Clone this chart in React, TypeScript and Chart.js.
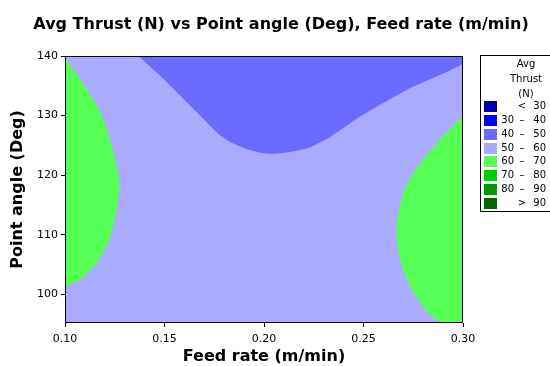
import React, { useEffect, useRef } from "react";
import { Chart, registerables } from "chart.js";

Chart.register(...registerables);

const chartTitle = "Avg Thrust (N) vs Point angle (Deg), Feed rate (m/min)";
const xAxisTitle = "Feed rate (m/min)";
const yAxisTitle = "Point angle (Deg)";

const feedMin = 0.1;
const feedMax = 0.3;
const angleMin = 95.2;
const angleMax = 140;
const xTicks = [0.1, 0.15, 0.2, 0.25, 0.3];
const yTicks = [100, 110, 120, 130, 140];

// 50–60 N: whole design space (background level)
const band5060Feed = [feedMin, feedMax, feedMax, feedMin];
const band5060Angle = [angleMin, angleMin, angleMax, angleMax];

// 40–50 N: upper middle region
const band4050Feed = [0.1368, 0.1494, 0.1628, 0.1712, 0.1779, 0.1846, 0.193, 0.203, 0.2131, 0.2231, 0.2332, 0.2482, 0.2717, 0.3, 0.3];
const band4050Angle = [140, 136.2, 131.7, 128.9, 126.7, 125.3, 124.2, 123.6, 123.9, 124.7, 126.4, 129.8, 134.3, 138.7, 140];

// 60–70 N: left region
const leftGreenFeed = [0.1, 0.1009, 0.1092, 0.1176, 0.1226, 0.126, 0.1273, 0.126, 0.1223, 0.1159, 0.1075, 0.1];
const leftGreenAngle = [140, 139.3, 135.4, 130.7, 125.9, 121.5, 118.1, 114.2, 109.2, 105.3, 102.5, 101.3];

// 60–70 N: right region
const rightGreenFeed = [0.3, 0.2868, 0.275, 0.27, 0.267, 0.2667, 0.2683, 0.2725, 0.2784, 0.2824, 0.2893, 0.3];
const rightGreenAngle = [130.1, 125.4, 120.4, 117.0, 112.5, 109.2, 105.9, 102.0, 98.7, 97.0, 95.2, 95.2];

// legend
const legendTitle = ["Avg", "Thrust", "(N)"];
const legendLow = ["", "30", "40", "50", "60", "70", "80", ""];
const legendSep = ["<", "–", "–", "–", "–", "–", "–", ">"];
const legendHigh = ["30", "40", "50", "60", "70", "80", "90", "90"];
const legendColors = ["#0000AA", "#0000FF", "#6B6BFF", "#AAAAFF", "#55FF55", "#00D000", "#009900", "#006400"];

const toPoints = (xs: number[], ys: number[]) => xs.map((x, i) => ({ x, y: ys[i] }));

const region = (xs: number[], ys: number[], color: string) => ({
  data: toPoints(xs, ys),
  showLine: true,
  fill: "shape" as const,
  backgroundColor: color,
  borderColor: "rgba(0,0,0,0)",
  borderWidth: 0,
  pointRadius: 0,
  pointHoverRadius: 0,
  tension: 0.25,
});

const framePlugin = {
  id: "frame",
  afterDraw(chart: any) {
    const { ctx, chartArea } = chart;
    const l = Math.round(chartArea.left) + 0.5;
    const t = Math.round(chartArea.top) + 0.5;
    const r = Math.round(chartArea.right) - 0.5;
    const b = Math.round(chartArea.bottom) - 0.5;
    ctx.save();
    ctx.strokeStyle = "#000";
    ctx.lineWidth = 1;
    ctx.strokeRect(l, t, r - l, b - t);
    ctx.restore();
  },
};

export default function App() {
  const ref = useRef<HTMLCanvasElement | null>(null);

  useEffect(() => {
    if (!ref.current) return;
    const tickFont = { family: "DejaVu Sans", size: 11 };
    const titleFont = { family: "DejaVu Sans", size: 16, weight: "bold" as const };
    const chart = new Chart(ref.current, {
      type: "scatter",
      data: {
        datasets: [
          region(band4050Feed, band4050Angle, legendColors[2]),
          region(leftGreenFeed, leftGreenAngle, legendColors[4]),
          region(rightGreenFeed, rightGreenAngle, legendColors[4]),
          region(band5060Feed, band5060Angle, legendColors[3]),
        ],
      },
      options: {
        animation: false,
        responsive: false,
        events: [],
        layout: { padding: { top: 56, right: 87, left: 0, bottom: 0 } },
        plugins: {
          legend: { display: false },
          title: { display: false },
          tooltip: { enabled: false },
        },
        scales: {
          x: {
            type: "linear",
            min: feedMin,
            max: feedMax,
            afterBuildTicks: (s: any) => {
              s.ticks = xTicks.map((v) => ({ value: v }));
            },
            afterFit: (s: any) => {
              s.height = 43;
            },
            ticks: {
              color: "#000",
              font: tickFont,
              padding: 6,
              maxRotation: 0,
              autoSkip: false,
              callback: (v: any) => Number(v).toFixed(2),
            },
            grid: { display: true, drawOnChartArea: false, drawTicks: true, tickLength: 4, color: "#000" },
            border: { display: false },
            title: { display: true, text: xAxisTitle, color: "#000", font: titleFont, padding: { top: 0, bottom: 0 } },
          },
          y: {
            type: "linear",
            min: angleMin,
            max: angleMax,
            afterBuildTicks: (s: any) => {
              s.ticks = yTicks.map((v) => ({ value: v }));
            },
            afterFit: (s: any) => {
              s.width = 65;
            },
            ticks: {
              color: "#000",
              font: tickFont,
              padding: 3,
              autoSkip: false,
              callback: (v: any) => String(v),
            },
            grid: { display: true, drawOnChartArea: false, drawTicks: true, tickLength: 4, color: "#000" },
            border: { display: false },
            title: { display: true, text: yAxisTitle, color: "#000", font: titleFont, padding: { top: 8, bottom: 0 } },
          },
        },
      },
      plugins: [framePlugin],
    });
    return () => chart.destroy();
  }, []);

  return (
    <div
      style={{
        position: "absolute",
        left: 0,
        top: 0,
        width: 550,
        height: 366,
        overflow: "hidden",
        background: "#fff",
        fontFamily: "DejaVu Sans",
      }}
    >
      <canvas ref={ref} width={550} height={366} style={{ position: "absolute", left: 0, top: 0, width: 550, height: 366 }} />
      <div
        style={{
          position: "absolute",
          left: 0,
          top: 14,
          width: 562,
          textAlign: "center",
          fontSize: 16,
          fontWeight: "bold",
          lineHeight: "20px",
          color: "#000",
          whiteSpace: "nowrap",
        }}
      >
        {chartTitle}
      </div>
      <div
        style={{
          position: "absolute",
          left: 480,
          top: 55,
          width: 90,
          height: 157,
          border: "1px solid #000",
          boxSizing: "border-box",
          fontSize: 10,
          color: "#000",
        }}
      >
        <div style={{ position: "absolute", left: 0, top: 0, width: 90, textAlign: "center", lineHeight: "15px" }}>
          {legendTitle.map((t, i) => (
            <div key={i}>{t}</div>
          ))}
        </div>
        {legendColors.map((c, i) => (
          <div key={i} style={{ position: "absolute", left: 0, top: 45 + i * 13.85, height: 12, width: 90 }}>
            <div style={{ position: "absolute", left: 3, top: 0, width: 13, height: 11, background: c }} />
            <div style={{ position: "absolute", left: 18, width: 15, top: -1, textAlign: "right", lineHeight: "12px" }}>{legendLow[i]}</div>
            <div style={{ position: "absolute", left: 36, width: 10, top: -1, textAlign: "center", lineHeight: "12px" }}>{legendSep[i]}</div>
            <div style={{ position: "absolute", left: 50, width: 15, top: -1, textAlign: "right", lineHeight: "12px" }}>{legendHigh[i]}</div>
          </div>
        ))}
      </div>
    </div>
  );
}
